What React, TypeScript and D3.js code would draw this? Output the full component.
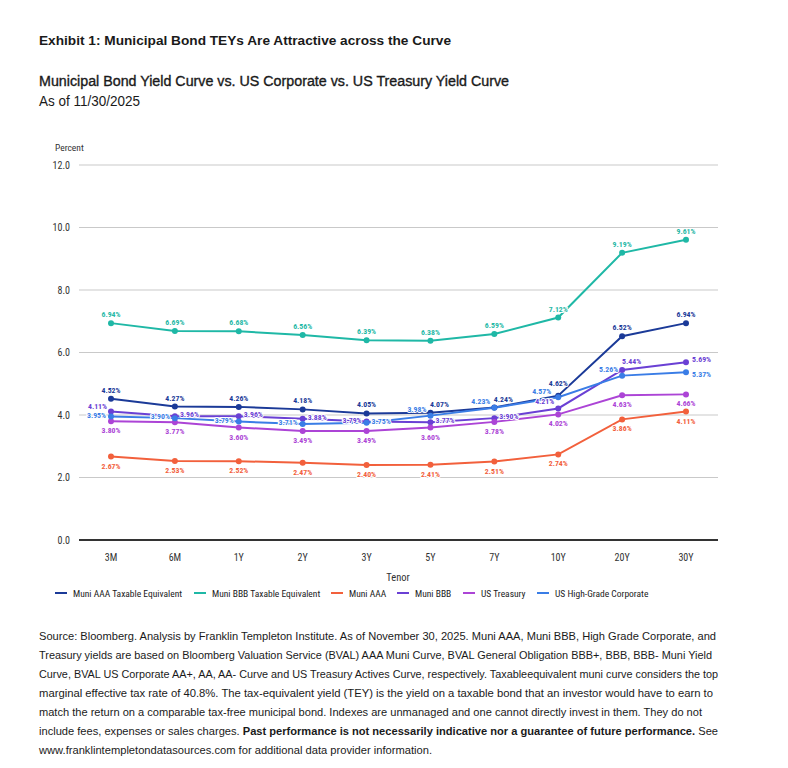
import React from "react";
import * as d3 from "d3";

const tenors = ["3M", "6M", "1Y", "2Y", "3Y", "5Y", "7Y", "10Y", "20Y", "30Y"];

const muniAAATE = [4.52, 4.27, 4.26, 4.18, 4.05, 4.07, 4.24, 4.62, 6.52, 6.94];
const muniBBBTE = [6.94, 6.69, 6.68, 6.56, 6.39, 6.38, 6.59, 7.12, 9.19, 9.61];
const muniAAA = [2.67, 2.53, 2.52, 2.47, 2.4, 2.41, 2.51, 2.74, 3.86, 4.11];
const muniBBB = [4.11, 3.96, 3.96, 3.88, 3.79, 3.77, 3.9, 4.21, 5.44, 5.69];
const usTreasury = [3.8, 3.77, 3.6, 3.49, 3.49, 3.6, 3.78, 4.02, 4.63, 4.66];
const usHGCorp = [3.95, 3.9, 3.79, 3.71, 3.75, 3.98, 4.23, 4.57, 5.26, 5.37];

const seriesNames = [
  "Muni AAA Taxable Equivalent",
  "Muni BBB Taxable Equivalent",
  "Muni AAA",
  "Muni BBB",
  "US Treasury",
  "US High-Grade Corporate",
];
const seriesValues = [muniAAATE, muniBBBTE, muniAAA, muniBBB, usTreasury, usHGCorp];
const seriesColors = ["#1b3a98", "#1fb8a6", "#f2603c", "#6a40d4", "#ac44d6", "#3a7de6"];

// label placement codes per point (style, not data)
const labelPlacement = [
  ["t", "t", "t", "t", "t", "tR", "tR", "tT", "t", "t"],
  ["t", "t", "t", "t", "t", "t", "t", "t", "t", "t"],
  ["b", "b", "b", "b", "b", "b", "b", "b", "b", "b"],
  ["lu", "r", "r", "r", "l", "r", "r", "tl", "tr", "ru"],
  ["b", "b", "b", "b", "b", "b", "b", "b", "b", "b"],
  ["l", "l", "l", "l", "r", "tl", "tl", "tlw", "tl", "rd"],
];

const yTicks = [0, 2, 4, 6, 8, 10, 12];

const sourceLines = [
  "Source: Bloomberg. Analysis by Franklin Templeton Institute. As of November 30, 2025. Muni AAA, Muni BBB, High Grade Corporate, and",
  "Treasury yields are based on Bloomberg Valuation Service (BVAL) AAA Muni Curve, BVAL General Obligation BBB+, BBB, BBB- Muni Yield",
  "Curve, BVAL US Corporate AA+, AA, AA- Curve and US Treasury Actives Curve, respectively. Taxableequivalent muni curve considers the top",
  "marginal effective tax rate of 40.8%. The tax-equivalent yield (TEY) is the yield on a taxable bond that an investor would have to earn to",
  "match the return on a comparable tax-free municipal bond. Indexes are unmanaged and one cannot directly invest in them. They do not",
];
const sourceWidths = [677, 673, 679, 674, 663, 679, 393];

const NARROW = "'Liberation Sans Narrow', 'Arial Narrow', 'Roboto Condensed', sans-serif";
const SANS = "'Liberation Sans', Arial, sans-serif";

function placement(code: string) {
  switch (code) {
    case "t":
      return { anchor: "middle", dx: 0, dy: -6 };
    case "tT":
      return { anchor: "middle", dx: 0, dy: -10 };
    case "tR":
      return { anchor: "middle", dx: 9, dy: -6 };
    case "b":
      return { anchor: "middle", dx: 0, dy: 12 };
    case "l":
      return { anchor: "end", dx: -5, dy: 1 };
    case "lu":
      return { anchor: "end", dx: -4, dy: -3 };
    case "r":
      return { anchor: "start", dx: 5, dy: 1 };
    case "ru":
      return { anchor: "start", dx: 6, dy: 0 };
    case "rd":
      return { anchor: "start", dx: 6, dy: 5 };
    case "tl":
      return { anchor: "end", dx: -4, dy: -4 };
    case "tlw":
      return { anchor: "end", dx: -7, dy: -3 };
    case "tr":
      return { anchor: "start", dx: 0, dy: -6 };
    default:
      return { anchor: "middle", dx: 0, dy: -6 };
  }
}

export default function App() {
  const W = 788;
  const H = 768;
  const x = d3.scalePoint<string>().domain(tenors).range([111, 686]);
  const y = d3.scaleLinear().domain([0, 12]).range([540, 165]);
  const gridX0 = 79;
  const gridX1 = 718;
  const fmt = d3.format(".1f");
  const pct = (v: number) => d3.format(".2f")(v) + "%";

  const line = d3
    .line<number>()
    .x((_, i) => x(tenors[i]) as number)
    .y((d) => y(d));

  const legendTextX = [73, 212, 349, 415, 481, 555];

  return (
    <svg
      width={W}
      height={H}
      viewBox={`0 0 ${W} ${H}`}
      style={{ position: "absolute", left: 0, top: 0, background: "#fff" }}
    >
      <rect x={0} y={0} width={W} height={H} fill="#fff" />
      {/* Titles */}
      <text x={39} y={45} fontFamily={SANS} fontWeight={700} fontSize={13.6} fill="#1a1a1a" textLength={412} lengthAdjust="spacingAndGlyphs">
        Exhibit 1: Municipal Bond TEYs Are Attractive across the Curve
      </text>
      <text x={39} y={86} fontFamily={SANS} fontSize={14} fill="#1a1a1a" stroke="#1a1a1a" strokeWidth={0.35} textLength={470} lengthAdjust="spacingAndGlyphs">
        Municipal Bond Yield Curve vs. US Corporate vs. US Treasury Yield Curve
      </text>
      <text x={39} y={106} fontFamily={SANS} fontSize={14} fill="#1a1a1a" textLength={101} lengthAdjust="spacingAndGlyphs">
        As of 11/30/2025
      </text>

      {/* Axis title */}
      <text x={55} y={151} fontFamily={NARROW} fontSize={9.5} fill="#333">
        Percent
      </text>

      {/* Gridlines and y ticks */}
      {yTicks.map((t) => (
        <g key={t}>
          <line
            x1={gridX0}
            x2={gridX1}
            y1={y(t)}
            y2={y(t)}
            stroke={t === 0 ? "#333" : "#c9c9c9"}
            strokeWidth={t === 0 ? 2 : 1}
          />
          <text x={70} y={y(t) + 3.5} textAnchor="end" fontFamily={NARROW} fontSize={10} fill="#333">
            {fmt(t)}
          </text>
        </g>
      ))}

      {/* X tick labels */}
      {tenors.map((t) => (
        <text key={t} x={x(t)} y={561} textAnchor="middle" fontFamily={NARROW} fontSize={10} fill="#333">
          {t}
        </text>
      ))}
      <text x={398} y={581} textAnchor="middle" fontFamily={NARROW} fontSize={10.5} fill="#333">
        Tenor
      </text>

      {/* Series lines */}
      {seriesValues.map((vals, si) => (
        <path key={"l" + si} d={line(vals) || ""} fill="none" stroke={seriesColors[si]} strokeWidth={2} />
      ))}
      {/* Points */}
      {seriesValues.map((vals, si) =>
        vals.map((v, i) => (
          <circle key={"c" + si + "-" + i} cx={x(tenors[i])} cy={y(v)} r={3} fill={seriesColors[si]} />
        ))
      )}
      {/* Labels */}
      {seriesValues.map((vals, si) =>
        vals.map((v, i) => {
          const p = placement(labelPlacement[si][i]);
          return (
            <text
              key={"t" + si + "-" + i}
              x={(x(tenors[i]) as number) + p.dx}
              y={y(v) + p.dy}
              textAnchor={p.anchor as any}
              fontFamily={NARROW}
              fontWeight={700}
              fontSize={7.8}
              fill={seriesColors[si]}
              stroke="#fff"
              strokeWidth={2}
              paintOrder="stroke"
            >
              {pct(v)}
            </text>
          );
        })
      )}

      {/* Legend */}
      {seriesNames.map((n, i) => (
        <g key={n}>
          <line x1={legendTextX[i] - 18} x2={legendTextX[i] - 6} y1={593} y2={593} stroke={seriesColors[i]} strokeWidth={2} />
          <text x={legendTextX[i]} y={596.5} fontFamily={NARROW} fontSize={9.5} fill="#222">
            {n}
          </text>
        </g>
      ))}

      {/* Source */}
      {sourceLines.map((s, i) => (
        <text
          key={"s" + i}
          x={39}
          y={640 + i * 19}
          fontFamily={SANS}
          fontSize={11}
          fill="#1a1a1a"
          textLength={sourceWidths[i]}
          lengthAdjust="spacingAndGlyphs"
        >
          {s}
        </text>
      ))}
      <text x={39} y={640 + 5 * 19} fontFamily={SANS} fontSize={11} fill="#1a1a1a" textLength={sourceWidths[5]} lengthAdjust="spacingAndGlyphs">
        include fees, expenses or sales charges.{" "}
        <tspan fontWeight={700}>Past performance is not necessarily indicative nor a guarantee of future performance.</tspan> See
      </text>
      <text x={39} y={640 + 6 * 19} fontFamily={SANS} fontSize={11} fill="#1a1a1a" textLength={sourceWidths[6]} lengthAdjust="spacingAndGlyphs">
        www.franklintempletondatasources.com for additional data provider information.
      </text>
    </svg>
  );
}
